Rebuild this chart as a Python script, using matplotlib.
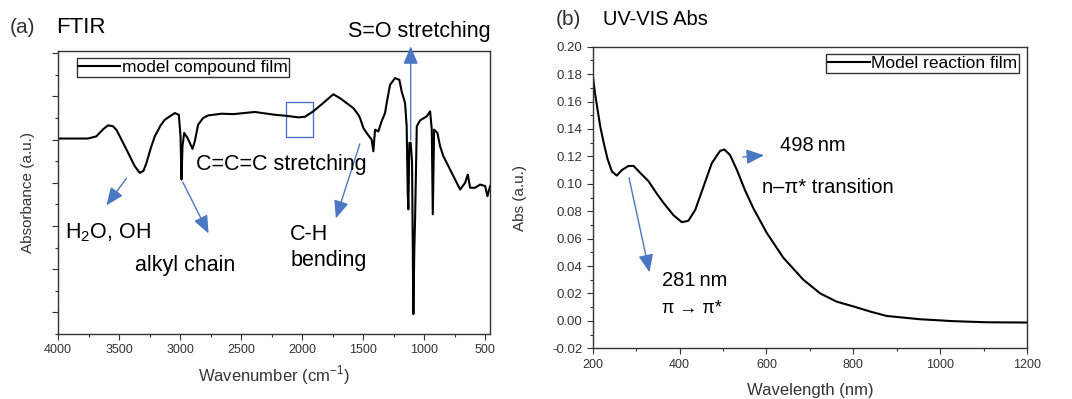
import matplotlib
matplotlib.use("Agg")
import matplotlib.pyplot as plt
from matplotlib.patches import Rectangle

plt.rcParams['font.family'] = ['Liberation Sans', 'DejaVu Sans']
plt.rcParams['mathtext.fontset'] = 'custom'
plt.rcParams['mathtext.rm'] = 'Liberation Sans'

# ---- FTIR (a), arbitrary absorbance units
ftir_wn = [4000, 3754, 3686, 3630, 3590, 3550, 3521, 3480, 3439, 3371, 3330, 3300, 3275,
           3240, 3207, 3160, 3125, 3043, 3010, 2996, 2988, 2980, 2966, 2939, 2920, 2898,
           2879, 2852, 2811, 2769, 2660, 2564, 2387, 2223, 2127, 2031, 1976, 1908, 1826,
           1744, 1689, 1635, 1580, 1539, 1525, 1498, 1471, 1430, 1416, 1402, 1375, 1348,
           1320, 1307, 1279, 1238, 1203, 1184, 1156, 1143, 1134, 1129, 1121, 1110, 1099,
           1088, 1080, 1074, 1060, 1033, 978, 951, 937, 929, 918, 891, 869, 842, 801,
           746, 705, 664, 642, 623, 582, 541, 500, 481, 459]
ftir_abs = [0.805, 0.805, 0.815, 0.848, 0.866, 0.862, 0.845, 0.800, 0.754, 0.677, 0.646, 0.655,
            0.692, 0.760, 0.815, 0.865, 0.892, 0.923, 0.915, 0.815, 0.615, 0.769, 0.831, 0.808,
            0.785, 0.757, 0.792, 0.869, 0.900, 0.912, 0.920, 0.918, 0.928, 0.915, 0.910, 0.903,
            0.906, 0.931, 0.970, 1.010, 0.992, 0.969, 0.946, 0.915, 0.900, 0.854, 0.831, 0.800,
            0.746, 0.846, 0.838, 0.885, 0.923, 0.969, 1.054, 1.085, 1.077, 1.023, 0.969, 0.862,
            0.550, 0.477, 0.785, 0.785, 0.700, -0.008, 0.300, 0.431, 0.862, 0.889, 0.908, 0.931,
            0.846, 0.454, 0.846, 0.831, 0.769, 0.723, 0.677, 0.615, 0.569, 0.600, 0.638, 0.577,
            0.577, 0.592, 0.585, 0.538, 0.585]

# ---- UV-VIS (b)
uv_nm = [200, 205, 211, 217, 225, 234, 244, 255, 267, 282, 294, 309, 328, 347, 363,
         386, 405, 420, 436, 455, 474, 493, 503, 516, 532, 551, 570, 601, 639, 685,
         724, 762, 801, 839, 877, 954, 1031, 1108, 1200]
uv_abs = [0.179, 0.166, 0.154, 0.142, 0.130, 0.118, 0.109, 0.106, 0.110, 0.113, 0.113,
          0.108, 0.102, 0.093, 0.086, 0.077, 0.072, 0.073, 0.081, 0.098, 0.115, 0.124,
          0.125, 0.121, 0.110, 0.095, 0.082, 0.064, 0.046, 0.030, 0.020, 0.014, 0.0105,
          0.0068, 0.0036, 0.0012, -0.0002, -0.001, -0.0012]

blue = '#4a78c4'
grey = '#333333'

fig = plt.figure(figsize=(10.72, 3.99), dpi=100)
ax1 = fig.add_axes([0.0541, 0.163, 0.403, 0.709])
ax2 = fig.add_axes([0.553, 0.127, 0.405, 0.756])

for ax in (ax1, ax2):
    for s in ax.spines.values():
        s.set_color(grey)
        s.set_linewidth(1.0)
    ax.tick_params(which='both', direction='out', colors=grey, labelsize=9, width=0.8)
    ax.tick_params(which='major', length=4)
    ax.tick_params(which='minor', length=2.5)

# ---------------- FTIR
ax1.plot(ftir_wn, ftir_abs, color='black', lw=1.5, label='model compound film')
ax1.set_xlim(4000, 460)
ax1.set_ylim(-0.1, 1.21)
ax1.set_xticks([4000, 3500, 3000, 2500, 2000, 1500, 1000, 500])
ax1.set_xticks(range(750, 4000, 500), minor=True)
ax1.set_yticks([0, 0.2, 0.4, 0.6, 0.8, 1.0, 1.2])
ax1.set_yticks([-0.1, 0.1, 0.3, 0.5, 0.7, 0.9, 1.1], minor=True)
ax1.set_yticklabels([])
ax1.set_xlabel('Wavenumber (cm$^{-1}$)', fontsize=12, color=grey)
ax1.xaxis.set_label_coords(0.5, -0.105)
ax1.set_ylabel('Absorbance (a.u.)', fontsize=11, color=grey)
ax1.yaxis.set_label_coords(-0.054, 0.5)
ax1.legend(loc='upper left', bbox_to_anchor=(0.043, 0.975), borderaxespad=0,
           fontsize=12.5, frameon=True, fancybox=False, edgecolor=grey,
           borderpad=0.1, handlelength=2.4, handletextpad=0.1, framealpha=1)

# marked region around 2000 cm-1
ax1.add_patch(Rectangle((1908, 0.812), 2135 - 1908, 0.16, fill=False,
                        edgecolor=blue, lw=1.0))

arw = dict(arrowstyle='-|>,head_length=0.6,head_width=0.25', color=blue, lw=1.0,
           mutation_scale=18)
ax1.annotate('', xy=(3617, 0.485), xytext=(3426, 0.631), arrowprops=arw)
ax1.annotate('', xy=(2756, 0.354), xytext=(2988, 0.615), arrowprops=arw)
ax1.annotate('', xy=(1730, 0.423), xytext=(1520, 0.792), arrowprops=arw)
ax1.annotate('', xy=(1110, 1.245), xytext=(1110, 0.785), arrowprops=arw,
             annotation_clip=False)

ax1.text(2870, 0.657, 'C=C=C stretching', fontsize=15.5)
ax1.text(3945, 0.341, 'H$_2$O, OH', fontsize=15.5)
ax1.text(3371, 0.192, 'alkyl chain', fontsize=15.5)
ax1.text(2099, 0.335, 'C-H', fontsize=15.5)
ax1.text(2096, 0.215, 'bending', fontsize=15.5)
ax1.text(1621, 1.274, 'S=O stretching', fontsize=15.5)

fig.text(0.0093, 0.9165, '(a)', fontsize=15, color=grey)
fig.text(0.0522, 0.9165, 'FTIR', fontsize=16)

# ---------------- UV-VIS
ax2.plot(uv_nm, uv_abs, color='black', lw=1.5, label='Model reaction film')
ax2.set_xlim(200, 1200)
ax2.set_ylim(-0.02, 0.20)
ax2.set_xticks(range(200, 1201, 200))
ax2.set_xticks(range(300, 1200, 200), minor=True)
ax2.set_yticks([i / 100 for i in range(-2, 21, 2)])
ax2.set_yticks([i / 100 for i in range(-1, 20, 2)], minor=True)
ax2.yaxis.set_major_formatter(plt.FormatStrFormatter('%.2f'))
ax2.tick_params(axis='y', labelsize=9.5)
ax2.set_xlabel('Wavelength (nm)', fontsize=12, color=grey)
ax2.xaxis.set_label_coords(0.5, -0.115)
ax2.set_ylabel('Abs (a.u.)', fontsize=11, color=grey)
ax2.yaxis.set_label_coords(-0.151, 0.5)
ax2.legend(loc='upper right', bbox_to_anchor=(0.982, 0.976), borderaxespad=0,
           fontsize=12.5, frameon=True, fancybox=False, edgecolor=grey,
           borderpad=0.1, handlelength=2.4, handletextpad=0.1, framealpha=1)

ax2.annotate('', xy=(601, 0.121), xytext=(539, 0.1193), arrowprops=arw)
ax2.annotate('', xy=(332, 0.0335), xytext=(282, 0.1064), arrowprops=arw)

ax2.text(631, 0.1242, '498\u2009nm', fontsize=14.5)
ax2.text(590, 0.0931, 'n\u2013\u03c0* transition', fontsize=14.5)
ax2.text(360, 0.0255, '281\u2009nm', fontsize=14.5)
ax2.text(360, 0.0061, '\u03c0 \u2192 \u03c0*', fontsize=13)

fig.text(0.518, 0.937, '(b)', fontsize=15, color=grey)
fig.text(0.5625, 0.937, 'UV-VIS Abs', fontsize=14.5)

fig.savefig('out.png', dpi=100)
